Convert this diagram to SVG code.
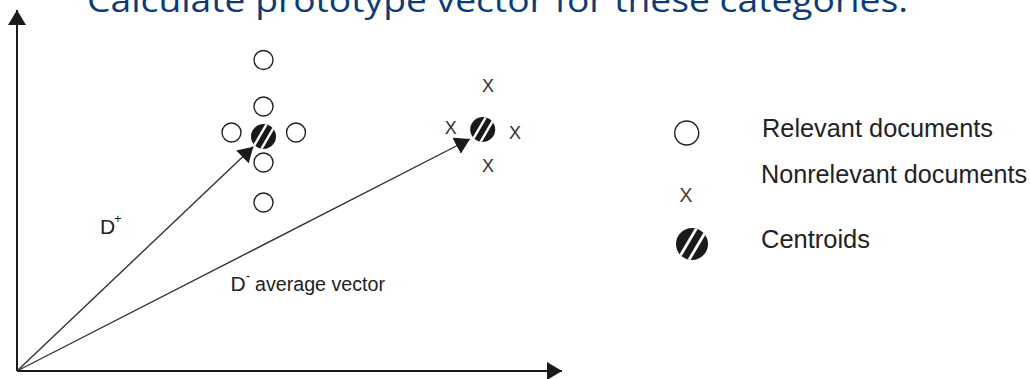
<svg xmlns="http://www.w3.org/2000/svg" width="1030" height="379" viewBox="0 0 1030 379">
<style>
.title{font-family:"Open Sans","Noto Sans",sans-serif;font-size:33px;fill:#0b3c78}
.lbl{font-family:"Liberation Sans",Arial,sans-serif;fill:#222}
.doc{fill:#fff;stroke:#222;stroke-width:1.4}
.xm{font-family:"Liberation Sans",Arial,sans-serif;fill:#333;text-anchor:middle}
.axis{stroke:#1a1a1a;stroke-width:2;fill:none}
.vec{stroke:#333;stroke-width:1.4;fill:none}
.stripe{stroke:#fff;stroke-width:2.4}
</style>
<defs>
<marker id="ah" markerUnits="userSpaceOnUse" markerWidth="16" markerHeight="18" refX="15" refY="9" orient="auto" viewBox="0 0 16 18">
<path d="M0,0 L15,9 L0,18 Z" fill="#1a1a1a"/>
</marker>
<clipPath id="c1"><circle cx="263.5" cy="136.5" r="12.5"/></clipPath>
<clipPath id="c2"><circle cx="482.7" cy="129.5" r="12.5"/></clipPath>
<clipPath id="c3"><circle cx="692" cy="244" r="16"/></clipPath>
</defs>
<text class="title" x="87" y="12" textLength="821" lengthAdjust="spacingAndGlyphs">Calculate prototype vector for these categories.</text>
<g id="connectors">
<path class="axis" d="M17,371 L17,10" marker-end="url(#ah)"/>
<path class="axis" d="M17,371 L562,371" marker-end="url(#ah)"/>
<path class="vec" d="M17,371 L253.3,146.7" marker-end="url(#ah)"/>
<path class="vec" d="M17,371 L470,139" marker-end="url(#ah)"/>
</g>
<g id="relevant-cluster">
<circle class="doc" cx="263.5" cy="60" r="9.5"/>
<circle class="doc" cx="263.5" cy="106.5" r="9.5"/>
<circle class="doc" cx="231.5" cy="132.5" r="9.5"/>
<circle class="doc" cx="296" cy="132.5" r="9.5"/>
<circle class="doc" cx="263.5" cy="162.5" r="9.5"/>
<circle class="doc" cx="263.5" cy="202.5" r="9.5"/>
</g>
<g id="centroid-relevant">
<circle cx="263.5" cy="136.5" r="12.5" fill="#1a1a1a"/>
<g clip-path="url(#c1)">
<line class="stripe" x1="251" y1="151" x2="269" y2="120"/>
<line class="stripe" x1="259" y1="153" x2="277" y2="122"/>
</g>
</g>
<g id="nonrelevant-cluster">
<text class="xm" x="488" y="92.3" font-size="18">X</text>
<text class="xm" x="450.7" y="134" font-size="18">X</text>
<text class="xm" x="515" y="139" font-size="18">X</text>
<text class="xm" x="488" y="171.7" font-size="18">X</text>
</g>
<g id="centroid-nonrelevant">
<circle cx="482.7" cy="129.5" r="12.5" fill="#1a1a1a"/>
<g clip-path="url(#c2)">
<line class="stripe" x1="470.2" y1="144" x2="488.2" y2="113"/>
<line class="stripe" x1="478.2" y1="146" x2="496.2" y2="115"/>
</g>
</g>
<g id="label-dplus">
<text class="lbl" x="100" y="234.3" font-size="21">D<tspan x="114" y="223" font-size="13">+</tspan></text>
</g>
<g id="label-dminus">
<text class="lbl" x="230.5" y="290.7" font-size="21">D<tspan x="246" y="279.5" font-size="12">-</tspan><tspan x="255" y="290.7" font-size="20" textLength="130" lengthAdjust="spacingAndGlyphs">average vector</tspan></text>
</g>
<g id="legend-relevant">
<circle class="doc" cx="686.7" cy="133" r="12"/>
<text class="lbl" x="762" y="136.7" font-size="26" textLength="231" lengthAdjust="spacingAndGlyphs">Relevant documents</text>
</g>
<g id="legend-nonrelevant">
<text class="xm" x="686" y="202" font-size="20" style="fill:#444">X</text>
<text class="lbl" x="761" y="183.3" font-size="26" textLength="266" lengthAdjust="spacingAndGlyphs">Nonrelevant documents</text>
</g>
<g id="legend-centroid">
<circle cx="692" cy="244" r="16" fill="#1a1a1a"/>
<g clip-path="url(#c3)">
<line class="stripe" x1="676" y1="263" x2="699" y2="224" style="stroke-width:2.8"/>
<line class="stripe" x1="686" y1="265" x2="709" y2="226" style="stroke-width:2.8"/>
</g>
<text class="lbl" x="761" y="248.3" font-size="26" textLength="109" lengthAdjust="spacingAndGlyphs">Centroids</text>
</g>
</svg>
